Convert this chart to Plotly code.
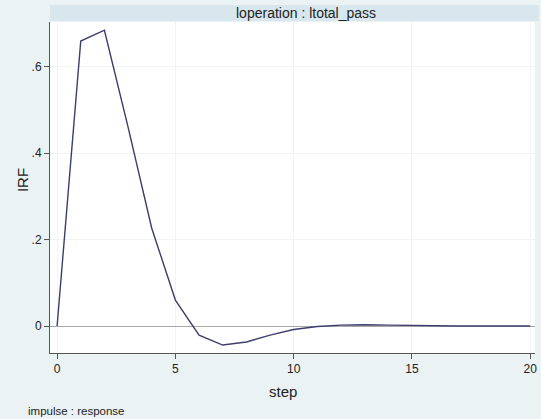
import plotly.graph_objects as go

steps = list(range(21))
irf = [0.0, 0.659, 0.684, 0.46, 0.226, 0.060, -0.021, -0.044, -0.037, -0.021,
       -0.008, -0.001, 0.002, 0.003, 0.002, 0.001, 0.0005, 0.0002, 0.0001, 0.0, 0.0]
x_ticks = [0, 5, 10, 15, 20]
y_ticks = [0, 0.2, 0.4, 0.6]
y_ticktext = ["0", ".2", ".4", ".6"]
panel_title = "loperation : ltotal_pass"
x_title = "step"
y_title = "IRF"
note = "impulse : response"

font = "Liberation Sans, Arial, sans-serif"
W, H = 541, 419
ml, mr, mt, mb = 50, 4, 22, 66
ph = H - mt - mb
pw = W - ml - mr


def px_x(x):
    return (x - ml) / pw


def px_y(y):
    return (H - mb - y) / ph


fig = go.Figure()
fig.add_trace(go.Scatter(x=steps, y=irf, mode="lines",
                         line=dict(color="#3d3d6e", width=1.4),
                         showlegend=False, hoverinfo="skip"))

fig.update_layout(
    width=W, height=H,
    margin=dict(l=ml, r=mr, t=mt, b=mb),
    paper_bgcolor="#EAF2F3",
    plot_bgcolor="#FFFFFF",
    font=dict(family=font, color="#222222", size=12),
    xaxis=dict(range=[-0.3, 20.2], tickvals=x_ticks, showline=True, linecolor="#555555",
               linewidth=1, ticks="outside", ticklen=5, tickcolor="#555555",
               showgrid=True, gridcolor="#F1F4F4", zeroline=False,
               tickfont=dict(size=12)),
    yaxis=dict(range=[-0.0624, 0.703], tickvals=y_ticks, ticktext=y_ticktext,
               showline=True, linecolor="#555555", linewidth=1, ticks="outside",
               ticklen=5, tickcolor="#555555", showgrid=True, gridcolor="#F1F4F4",
               zeroline=True, zerolinecolor="#A8A8A8", zerolinewidth=1,
               tickfont=dict(size=12)),
)

# title band
fig.add_shape(type="rect", xref="paper", yref="paper",
              x0=0, x1=1 + mr / pw, y0=px_y(21), y1=px_y(5),
              fillcolor="#D8E7EE", line=dict(width=0), layer="below")
fig.add_annotation(text=panel_title, xref="paper", yref="paper",
                   x=px_x(307), y=px_y(13), xanchor="center", yanchor="middle",
                   showarrow=False, font=dict(size=14, family=font, color="#222222"))
fig.add_annotation(text=x_title, xref="paper", yref="paper",
                   x=px_x(284), y=px_y(391), xanchor="center", yanchor="middle",
                   showarrow=False, font=dict(size=15, family=font, color="#222222"))
fig.add_annotation(text=y_title, xref="paper", yref="paper", textangle=-90,
                   x=px_x(22), y=px_y(180), xanchor="center", yanchor="middle",
                   showarrow=False, font=dict(size=15, family=font, color="#222222"))
fig.add_annotation(text=note, xref="paper", yref="paper",
                   x=px_x(26), y=px_y(411), xanchor="left", yanchor="middle",
                   showarrow=False, font=dict(size=11.5, family=font, color="#222222"))

fig.write_html("out.html", config={"displayModeBar": False},
               post_script="document.body.style.margin='0';document.body.style.overflow='hidden';")
